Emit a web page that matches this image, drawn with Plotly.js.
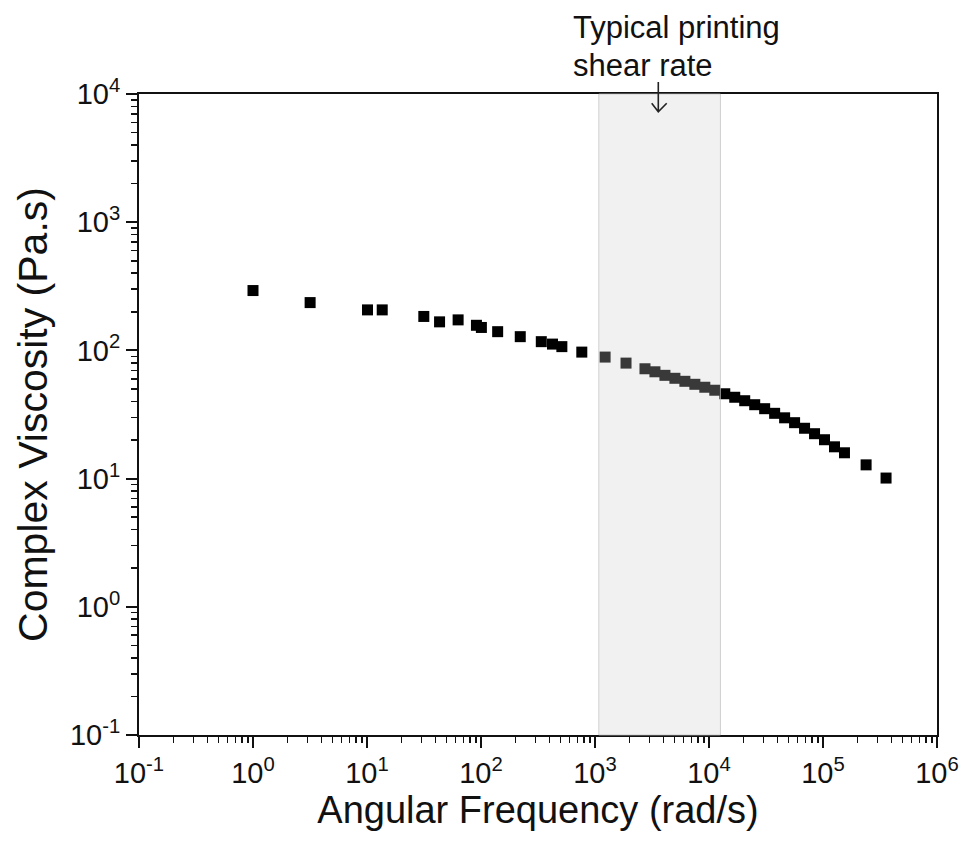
<!DOCTYPE html>
<html>
<head>
<meta charset="utf-8">
<script src="https://cdn.plot.ly/plotly-3.0.1.min.js"></script>
<style>html,body{margin:0;padding:0;background:#fff;}#chart{width:971px;height:857px;}</style>
</head>
<body>
<div id="chart"></div>
<script>
// Angular frequency (rad/s)
const freq = [1.0, 3.17, 10.1, 13.6, 31.5, 43.3, 63.0, 91.2, 100.8, 140,
  221, 338, 424, 512, 766, 1226, 1871,
  2744, 3356, 4106, 5022, 6143, 7514, 9190, 11240, 13750, 16820, 20570,
  25170, 30780, 37650, 46060, 56340, 68910, 84300, 103100, 126100, 154300,
  238800, 357300];
// Complex viscosity (Pa.s)
const visc = [293, 236, 207, 207, 184, 167, 173, 157, 151, 140,
  128, 117, 112, 107, 97.0, 88.7, 79.6,
  71.9, 68.1, 63.9, 60.6, 57.4, 54.4, 51.6, 48.9, 45.9, 43.1, 40.5,
  37.7, 35.1, 32.3, 29.8, 27.3, 24.7, 22.4, 20.1, 17.7, 15.9,
  12.8, 10.1];
// Typical printing shear-rate band (rad/s)
const bandLow = 1080;
const bandHigh = 12600;

const xTickVals = [0.1, 1, 10, 100, 1000, 10000, 100000, 1000000];
const xTickText = ['10<sup>-1</sup>', '10<sup>0</sup>', '10<sup>1</sup>', '10<sup>2</sup>',
  '10<sup>3</sup>', '10<sup>4</sup>', '10<sup>5</sup>', '10<sup>6</sup>'];
const yTickVals = [0.1, 1, 10, 100, 1000, 10000];
const yTickText = ['10<sup>-1</sup>', '10<sup>0</sup>', '10<sup>1</sup>', '10<sup>2</sup>',
  '10<sup>3</sup>', '10<sup>4</sup>'];

const FONT = '"Liberation Sans", Arial, sans-serif';
const INK = '#111';

const trace = {
  x: freq, y: visc, type: 'scatter', mode: 'markers',
  marker: {symbol: 'square', size: 11, color: '#000'},
  hoverinfo: 'x+y', showlegend: false
};

const axisCommon = {
  type: 'log', showgrid: false, zeroline: false,
  showline: true, linecolor: INK, linewidth: 2, mirror: true,
  ticks: 'outside', ticklen: 11, tickwidth: 2, tickcolor: INK,
  tickmode: 'array', tickfont: {family: FONT, size: 29, color: INK},
  minor: {ticks: 'outside', ticklen: 6, tickwidth: 1.5, tickcolor: INK, showgrid: false, dtick: 'D1'}
};

const layout = {
  width: 971, height: 857,
  margin: {l: 139, r: 34, t: 94, b: 122, pad: 0},
  paper_bgcolor: '#fff', plot_bgcolor: '#fff',
  font: {family: FONT, color: INK},
  xaxis: Object.assign({}, axisCommon, {
    range: [-1, 6],
    tickvals: xTickVals, ticktext: xTickText,
    title: {text: 'Angular Frequency (rad/s)', font: {family: FONT, size: 38, color: INK}, standoff: 8}
  }),
  yaxis: Object.assign({}, axisCommon, {
    range: [-1, 4],
    tickvals: yTickVals, ticktext: yTickText,
    title: {text: 'Complex Viscosity (Pa.s)', font: {family: FONT, size: 41, color: INK}, standoff: 10}
  }),
  shapes: [
    {type: 'rect', xref: 'x', yref: 'paper',
     x0: bandLow, x1: bandHigh, y0: 0, y1: 1,
     fillcolor: 'rgba(205,205,205,0.28)', line: {color: 'rgba(190,190,190,0.7)', width: 1}, layer: 'above'},
    {type: 'path', xref: 'paper', yref: 'paper',
     path: 'M 0.65075 1.01872 L 0.65075 0.97239 M 0.64248 0.98549 L 0.65075 0.97239 L 0.66128 0.98549',
     line: {color: '#222', width: 1.6}}
  ],
  annotations: [
    {xref: 'paper', yref: 'paper', x: 0.541, y: 1.1045, xanchor: 'left', yanchor: 'middle',
     text: 'Typical printing', showarrow: false, font: {family: FONT, size: 31, color: INK}},
    {xref: 'paper', yref: 'paper', x: 0.541, y: 1.0452, xanchor: 'left', yanchor: 'middle',
     text: 'shear rate', showarrow: false, font: {family: FONT, size: 31, color: INK}}
  ]
};

Plotly.newPlot('chart', [trace], layout, {displayModeBar: false, staticPlot: true});
</script>
</body>
</html>
